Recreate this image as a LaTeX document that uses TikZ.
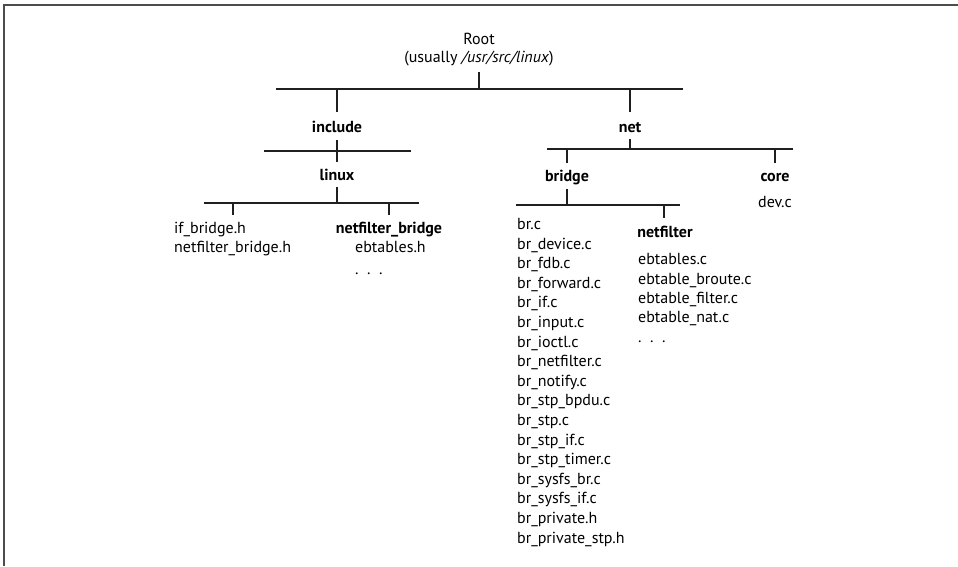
\documentclass[tikz,border=0pt]{standalone}
\usepackage{fontspec}
\setmainfont{PT Sans}
\begin{document}
\begin{tikzpicture}[x=1pt,y=-1pt,
  bar/.style={line width=2.2pt, black!88},
  frame/.style={line width=1.6pt, black!70},
  lbl/.style={inner sep=0pt, anchor=base, font=\fontsize{16}{19.5}\selectfont},
  dirlbl/.style={lbl, font=\fontsize{16}{19.5}\selectfont\bfseries},
  files/.style={lbl, anchor=base west, align=left}]
\useasboundingbox (0,0) rectangle (958,566);
% frame
\coordinate (fTL) at (4,5); \coordinate (fTR) at (958,5); \coordinate (fBL) at (4,566);
\draw[frame] (fTR) -- (fTL) -- (fBL);

% labels (multi-line nodes are placed at the baseline of their last line)
\node[lbl] (root) at (479,44) {Root};
\node[lbl] (rootsub) at (479,62) {(usually \textit{/usr/src/linux})};
\node[dirlbl] (include) at (337,132) {include};
\node[dirlbl] (net) at (630,132) {net};
\node[dirlbl] (linux) at (337,180) {linux};
\node[dirlbl] (bridge) at (567,181) {bridge};
\node[dirlbl] (core) at (775,181) {core};
\node[lbl] (devc) at (775,207) {dev.c};
\node[files, font=\fontsize{16}{19}\selectfont] (incfiles) at (174,252) {if\_bridge.h\\netfilter\_bridge.h};
\node[dirlbl] (nfbridge) at (389,233) {netfilter\_bridge};
\node[files] (nfbfiles) at (355,252) {ebtables.h};
\node[files] (nfbdots) at (355,274) {.\ \ .\ \ .};
\node[files, font=\fontsize{16}{19.6}\selectfont] (brfiles) at (517,543) {br.c\\br\_device.c\\br\_fdb.c\\br\_forward.c\\br\_if.c\\br\_input.c\\br\_ioctl.c\\br\_netfilter.c\\br\_notify.c\\br\_stp\_bpdu.c\\br\_stp.c\\br\_stp\_if.c\\br\_stp\_timer.c\\br\_sysfs\_br.c\\br\_sysfs\_if.c\\br\_private.h\\br\_private\_stp.h};
\node[dirlbl] (netfilter) at (665,237) {netfilter};
\node[files, font=\fontsize{16}{19.3}\selectfont] (ebfiles) at (638,342) {ebtables.c\\ebtable\_broute.c\\ebtable\_filter.c\\ebtable\_nat.c\\.\ \ .\ \ .};

% root level
\coordinate (rTop) at (479,72); \coordinate (rJ) at (479,89);
\coordinate (rL) at (276,89); \coordinate (rR) at (683,89);
\coordinate (incJ) at (337,89); \coordinate (incTop) at (337,112);
\coordinate (netJ) at (630,89); \coordinate (netTop) at (630,112);
\draw[bar] (rTop) -- (rJ);
\draw[bar] (rL) -- (rR);
\draw[bar] (incJ) -- (incTop);
\draw[bar] (netJ) -- (netTop);

% include level
\coordinate (incBot) at (337,140); \coordinate (linTop) at (337,162);
\coordinate (iL) at (264,151); \coordinate (iR) at (411,151);
\draw[bar] (incBot) -- (linTop);
\draw[bar] (iL) -- (iR);

% linux level
\coordinate (linBot) at (337,187); \coordinate (lJ) at (337,203);
\coordinate (lL) at (204,203); \coordinate (lR) at (419,203);
\coordinate (ifJ) at (233,203); \coordinate (ifTop) at (233,215);
\coordinate (nbJ) at (389,203); \coordinate (nbTop) at (389,215);
\draw[bar] (linBot) -- (lJ);
\draw[bar] (lL) -- (lR);
\draw[bar] (ifJ) -- (ifTop);
\draw[bar] (nbJ) -- (nbTop);

% net level
\coordinate (netBot) at (630,139); \coordinate (nJ) at (630,149);
\coordinate (nL) at (547,149); \coordinate (nR) at (793,149);
\coordinate (brJ) at (567,149); \coordinate (brTop) at (567,163);
\coordinate (coJ) at (775,149); \coordinate (coTop) at (775,163);
\draw[bar] (netBot) -- (nJ);
\draw[bar] (nL) -- (nR);
\draw[bar] (brJ) -- (brTop);
\draw[bar] (coJ) -- (coTop);

% bridge level
\coordinate (brBot) at (567,189); \coordinate (bJ) at (567,205);
\coordinate (bL) at (516,205); \coordinate (bR) at (680,205);
\coordinate (nfJ) at (664,205); \coordinate (nfTop) at (664,218);
\draw[bar] (brBot) -- (bJ);
\draw[bar] (bL) -- (bR);
\draw[bar] (nfJ) -- (nfTop);
\end{tikzpicture}
\end{document}
